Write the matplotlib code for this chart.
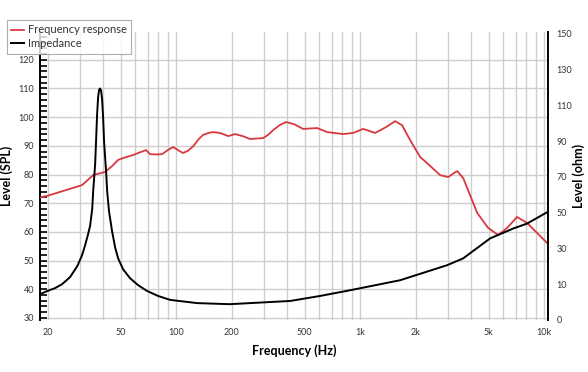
import numpy as np
import matplotlib
matplotlib.use("Agg")
import matplotlib.pyplot as plt
from matplotlib.ticker import FixedLocator, LogLocator, NullFormatter, MultipleLocator

plt.rcParams["font.family"] = ["Lato", "DejaVu Sans"]

# frequency response (Hz, dB SPL)
spl_freq = [18.2, 20, 25, 30.8, 35.4, 41.1, 45, 48.4, 53, 58.4, 64, 68.7, 72.2,
            78, 83.9, 90, 96.3, 103, 109, 116, 124, 132, 140, 150, 159, 173,
            192, 209, 230, 252, 297, 316, 337, 365, 396, 440, 490, 584, 662,
            809, 916, 1038, 1110, 1207, 1380, 1550, 1690, 1870, 2120, 2310,
            2720, 3010, 3200, 3370, 3630, 4330, 4960, 5630, 6300, 7130, 8090,
            10500]
spl_db = [72.0, 72.6, 74.5, 76.3, 79.8, 80.9, 83.0, 85.1, 86.0, 86.8, 87.8, 88.5,
          87.1, 87.0, 87.1, 88.5, 89.6, 88.4, 87.5, 88.3, 89.9, 92.2, 93.8, 94.5,
          94.8, 94.5, 93.4, 94.1, 93.4, 92.4, 92.7, 93.8, 95.5, 97.2, 98.3, 97.5,
          95.9, 96.2, 94.8, 94.1, 94.5, 95.9, 95.3, 94.5, 96.5, 98.6, 97.2, 92.0,
          86.1, 84.0, 79.8, 79.1, 80.3, 81.2, 78.8, 66.6, 61.4, 58.9, 61.4, 65.2,
          63.1, 55.8]

# impedance (Hz, ohm)
imp_freq = [18.2, 20, 22.0, 24.0, 26.5, 29.0, 30.8, 32.0, 33.2, 34.1, 35.0, 35.4,
            36.3, 36.7, 37.2, 37.7, 38.2, 38.6, 39.1, 39.6, 40.1, 40.6, 41.7,
            42.2, 43.2, 44.9, 46.6, 48.4, 51.5, 56.2, 62.2, 69.5, 79.8, 92.8,
            130, 196, 417, 606, 883, 1650, 2970, 3630, 5090, 6790, 8090, 10500]
imp_ohm = [7.2, 8.1, 8.9, 10.0, 13.9, 20.0, 26.1, 31.7, 37.8, 42.8, 52.2, 61.7,
           77.2, 89.4, 105, 115, 118.9, 119.4, 118.3, 113.3, 103.3, 89.4, 71.7,
           61.7, 50.6, 39.4, 30.6, 24.4, 18.3, 13.3, 9.7, 8.1, 6.7, 5.6,
           4.7, 4.4, 5.3, 6.7, 8.3, 12.2, 20.6, 24.4, 35.6, 41.1, 43.9, 50.5]

x_ticks = [20, 50, 100, 200, 500, 1000, 2000, 5000, 10000]
x_labels = ["20", "50", "100", "200", "500", "1k", "2k", "5k", "10k"]
ohm_ticks = [0, 10, 30, 50, 70, 90, 110, 130, 150]

red = "#d8383f"
grid_c = "#cfcfcf"
txt_c = "#333333"


def ohm_fwd(v):
    v = np.asarray(v, dtype=float)
    return np.where(v < 10, v / 10.0, 1 + (v - 10) / 20.0)


def ohm_inv(i):
    i = np.asarray(i, dtype=float)
    return np.where(i < 1, i * 10.0, 10 + (i - 1) * 20.0)


fig = plt.figure(figsize=(5.88, 3.72), dpi=100)
ax = fig.add_axes([0.068, 0.140, 0.864, 0.774])
ax2 = ax.twinx()

ax.set_xscale("log")
ax.set_xlim(18.2, 10500)
ax.set_ylim(29.3, 129.7)

ax.plot(spl_freq, spl_db, color=red, lw=1.3, label="Frequency response", zorder=3)
ax2.plot(imp_freq, imp_ohm, color="black", lw=1.4, label="Impedance", zorder=3)

ax2.set_yscale("function", functions=(ohm_fwd, ohm_inv))
ax2.set_ylim(0, 151)
ax2.yaxis.set_major_locator(FixedLocator(ohm_ticks))
ax2.yaxis.set_minor_locator(FixedLocator([]))
ax2.set_yticklabels([str(t) for t in ohm_ticks])

# grid
ax.xaxis.set_major_locator(FixedLocator(x_ticks))
ax.set_xticklabels(x_labels)
ax.xaxis.set_minor_locator(LogLocator(base=10, subs=np.arange(1, 10)))
ax.xaxis.set_minor_formatter(NullFormatter())
ax.grid(True, which="both", axis="x", color=grid_c, lw=1)
ax.yaxis.set_major_locator(MultipleLocator(10))
ax.yaxis.set_minor_locator(MultipleLocator(2))
ax.grid(True, which="major", axis="y", color=grid_c, lw=1)
ax.set_axisbelow(True)

ax.tick_params(axis="x", which="both", length=0, labelsize=6.5, colors=txt_c, pad=6)
ax.tick_params(axis="y", which="major", direction="in", length=5, width=1.2,
               labelsize=6.5, colors="black", labelcolor=txt_c, pad=4)
ax.tick_params(axis="y", which="minor", direction="in", length=5, width=1.2, color="black")
ax2.tick_params(axis="y", length=0, labelsize=6.5, labelcolor=txt_c, pad=6)

for a in (ax, ax2):
    a.spines["top"].set_visible(False)
    a.spines["bottom"].set_visible(False)
ax2.spines["left"].set_visible(False)
ax.spines["right"].set_visible(False)
ax.spines["left"].set_linewidth(1.4)
ax2.spines["right"].set_linewidth(1.4)

ax.set_xlabel("Frequency (Hz)", fontsize=9, fontweight="bold", labelpad=5)
ax.set_ylabel("Level (SPL)", fontsize=9, fontweight="bold")
ax2.set_ylabel("Level (ohm)", fontsize=9, fontweight="bold")
ax.yaxis.set_label_coords(-0.053, 0.5)
ax2.yaxis.set_label_coords(1.048, 0.5)

h1, l1 = ax.get_legend_handles_labels()
h2, l2 = ax2.get_legend_handles_labels()
leg = ax2.legend(h1 + h2, l1 + l2, loc="upper left",
                 bbox_to_anchor=(7 / 588, 1 - 20 / 372), bbox_transform=fig.transFigure,
                 fontsize=8, frameon=True, fancybox=False, handlelength=1.1,
                 handletextpad=0.35, borderpad=0.4, labelspacing=0.25,
                 borderaxespad=0)
leg.get_frame().set_edgecolor("#999999")
leg.get_frame().set_linewidth(0.8)
for t in leg.get_texts():
    t.set_color(txt_c)

fig.savefig("out.png", dpi=100)
